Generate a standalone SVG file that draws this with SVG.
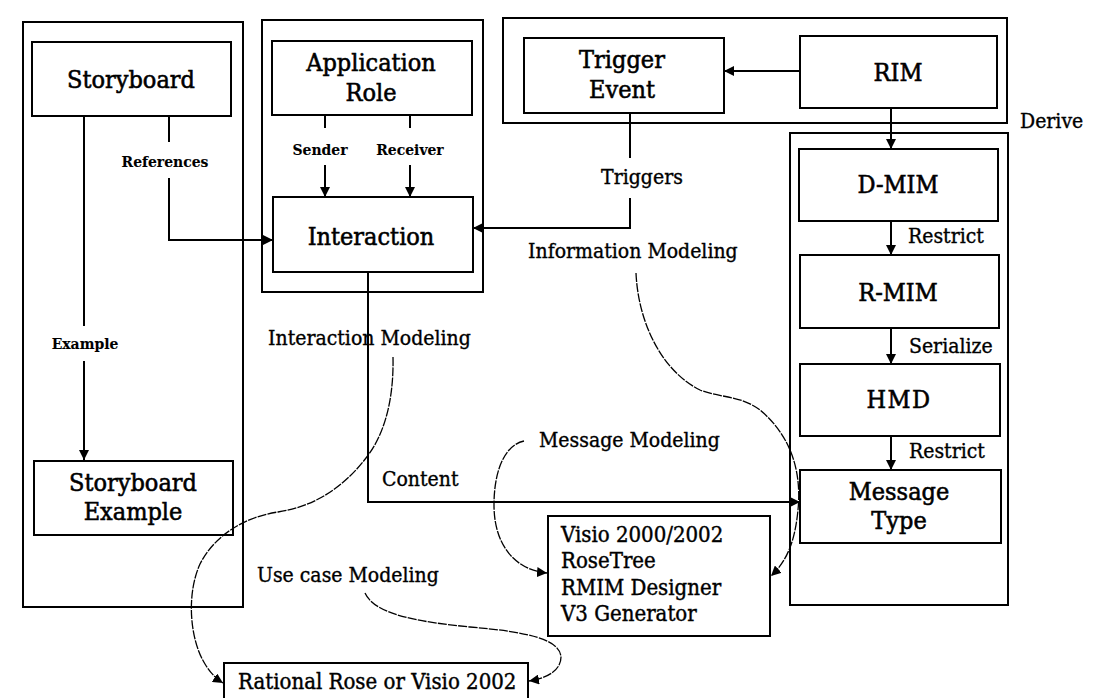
<svg xmlns="http://www.w3.org/2000/svg" width="1111" height="698" viewBox="0 0 1111 698">
  <defs>
    <style>
      .frame { fill: none; stroke: #000; stroke-width: 2; }
      .box { fill: none; stroke: #000; stroke-width: 2; }
      .wire { fill: none; stroke: #000; stroke-width: 2; }
      .curve { fill: none; stroke: #000; stroke-width: 1.3; stroke-dasharray: 9 1.2; }
      text { font-family: 'DejaVu Serif Condensed', 'DejaVu Serif', serif; font-stretch: condensed; fill: #000; stroke: #000; }
      .title { font-size: 25px; text-anchor: middle; stroke-width: 0.55; }
      .lbl { font-size: 21px; stroke-width: 0.35; }
      .mid { text-anchor: middle; }
      .small { font-size: 15.5px; font-weight: bold; text-anchor: middle; stroke-width: 0.1; }
      .tool { font-size: 22px; stroke-width: 0.4; }
    </style>
    <marker id="arrow" viewBox="0 0 10 10" refX="10" refY="5" markerWidth="10" markerHeight="10" markerUnits="userSpaceOnUse" orient="auto">
      <path d="M0,0 L10,5 L0,10 z" fill="#000"/>
    </marker>
  </defs>

  <rect width="1111" height="698" fill="#fff"/>

  <!-- grouping frames -->
  <g id="frames">
    <rect class="frame" x="23" y="22" width="220" height="585"/>
    <rect class="frame" x="262" y="20" width="221" height="272"/>
    <rect class="frame" x="503" y="18" width="504" height="105"/>
    <rect class="frame" x="790" y="133" width="218" height="472"/>
  </g>

  <!-- connectors -->
  <g id="connectors">
    <!-- Storyboard to Storyboard Example -->
    <line class="wire" x1="84" y1="116" x2="84" y2="326"/>
    <line class="wire" x1="84" y1="361" x2="84" y2="460" marker-end="url(#arrow)"/>
    <!-- References -->
    <line class="wire" x1="169" y1="116" x2="169" y2="142"/>
    <polyline class="wire" points="169,178 169,240 273,240" marker-end="url(#arrow)"/>
    <!-- Sender / Receiver -->
    <line class="wire" x1="325" y1="115" x2="325" y2="128"/>
    <line class="wire" x1="325" y1="165" x2="325" y2="197" marker-end="url(#arrow)"/>
    <line class="wire" x1="410" y1="115" x2="410" y2="128"/>
    <line class="wire" x1="410" y1="165" x2="410" y2="197" marker-end="url(#arrow)"/>
    <!-- RIM to Trigger Event -->
    <line class="wire" x1="800" y1="71" x2="724" y2="71" marker-end="url(#arrow)"/>
    <!-- Derive -->
    <line class="wire" x1="891" y1="108" x2="891" y2="149" marker-end="url(#arrow)"/>
    <!-- Triggers -->
    <line class="wire" x1="630" y1="113" x2="630" y2="158"/>
    <polyline class="wire" points="630,198 630,228 473,228" marker-end="url(#arrow)"/>
    <!-- Restrict / Serialize / Restrict -->
    <line class="wire" x1="891" y1="221" x2="891" y2="255" marker-end="url(#arrow)"/>
    <line class="wire" x1="891" y1="328" x2="891" y2="364" marker-end="url(#arrow)"/>
    <line class="wire" x1="891" y1="436" x2="891" y2="470" marker-end="url(#arrow)"/>
    <!-- Content -->
    <polyline class="wire" points="368,272 368,502 800,502" marker-end="url(#arrow)"/>

    <!-- modeling tool curves -->
    <path class="curve" d="M393,357 C394,405 382,438 366,458 C346,484 318,506 278,512 C244,517 214,536 200,564 C186,595 190,640 205,664 C210,672 215,678 223,683" marker-end="url(#arrow)"/>
    <path class="curve" d="M636,273 C638,320 660,370 700,390 C720,398 740,395 760,410 C790,435 802,470 798,510 C795,540 788,560 771,576" marker-end="url(#arrow)"/>
    <path class="curve" d="M524,441 C505,445 494,470 494,505 C494,545 515,570 547,573" marker-end="url(#arrow)"/>
    <path class="curve" d="M365,593 C375,615 420,622 470,627 C530,632 560,640 561,657 C561,670 548,678 529,681" marker-end="url(#arrow)"/>
  </g>

  <!-- nodes -->
  <g id="storyboard">
    <rect class="box" x="32" y="42" width="199" height="74"/>
    <text class="title" x="131" y="88">Storyboard</text>
  </g>
  <g id="storyboard-example">
    <rect class="box" x="34" y="461" width="199" height="74"/>
    <text class="title" x="133" y="491">Storyboard</text>
    <text class="title" x="133" y="520">Example</text>
  </g>
  <g id="application-role">
    <rect class="box" x="272" y="41" width="200" height="74"/>
    <text class="title" x="371" y="71">Application</text>
    <text class="title" x="371" y="101">Role</text>
  </g>
  <g id="interaction">
    <rect class="box" x="273" y="197" width="200" height="75"/>
    <text class="title" x="371" y="245">Interaction</text>
  </g>
  <g id="trigger-event">
    <rect class="box" x="524" y="38" width="200" height="75"/>
    <text class="title" x="622" y="68">Trigger</text>
    <text class="title" x="622" y="98">Event</text>
  </g>
  <g id="rim">
    <rect class="box" x="800" y="36" width="197" height="72"/>
    <text class="title" x="898" y="81">RIM</text>
  </g>
  <g id="d-mim">
    <rect class="box" x="799" y="149" width="199" height="72"/>
    <text class="title" x="898" y="193">D-MIM</text>
  </g>
  <g id="r-mim">
    <rect class="box" x="800" y="255" width="199" height="73"/>
    <text class="title" x="898" y="301">R-MIM</text>
  </g>
  <g id="hmd">
    <rect class="box" x="800" y="364" width="200" height="72"/>
    <text class="title" x="899" y="408" letter-spacing="1.5">HMD</text>
  </g>
  <g id="message-type">
    <rect class="box" x="800" y="470" width="201" height="73"/>
    <text class="title" x="899" y="500">Message</text>
    <text class="title" x="899" y="529">Type</text>
  </g>
  <g id="tools-v3">
    <rect class="box" x="548" y="516" width="222" height="120"/>
    <text class="tool" x="561" y="542">Visio 2000/2002</text>
    <text class="tool" x="561" y="568">RoseTree</text>
    <text class="tool" x="561" y="595">RMIM Designer</text>
    <text class="tool" x="561" y="621">V3 Generator</text>
  </g>
  <g id="tools-usecase">
    <rect class="box" x="224" y="663" width="304" height="40"/>
    <text class="tool" x="238" y="689">Rational Rose or Visio 2002</text>
  </g>

  <!-- connector and area labels -->
  <g id="labels">
    <text class="small" x="165" y="167">References</text>
    <text class="small" x="320" y="155">Sender</text>
    <text class="small" x="410" y="155">Receiver</text>
    <text class="small" x="85" y="349">Example</text>
    <text class="lbl mid" x="642" y="184">Triggers</text>
    <text class="lbl" x="1020" y="128">Derive</text>
    <text class="lbl" x="908" y="243">Restrict</text>
    <text class="lbl" x="909" y="353">Serialize</text>
    <text class="lbl" x="909" y="458">Restrict</text>
    <text class="lbl" x="382" y="486">Content</text>
    <text class="lbl" x="528" y="258">Information Modeling</text>
    <text class="lbl" x="268" y="345">Interaction Modeling</text>
    <text class="lbl" x="539" y="447">Message Modeling</text>
    <text class="lbl" x="257" y="582">Use case Modeling</text>
  </g>
</svg>
